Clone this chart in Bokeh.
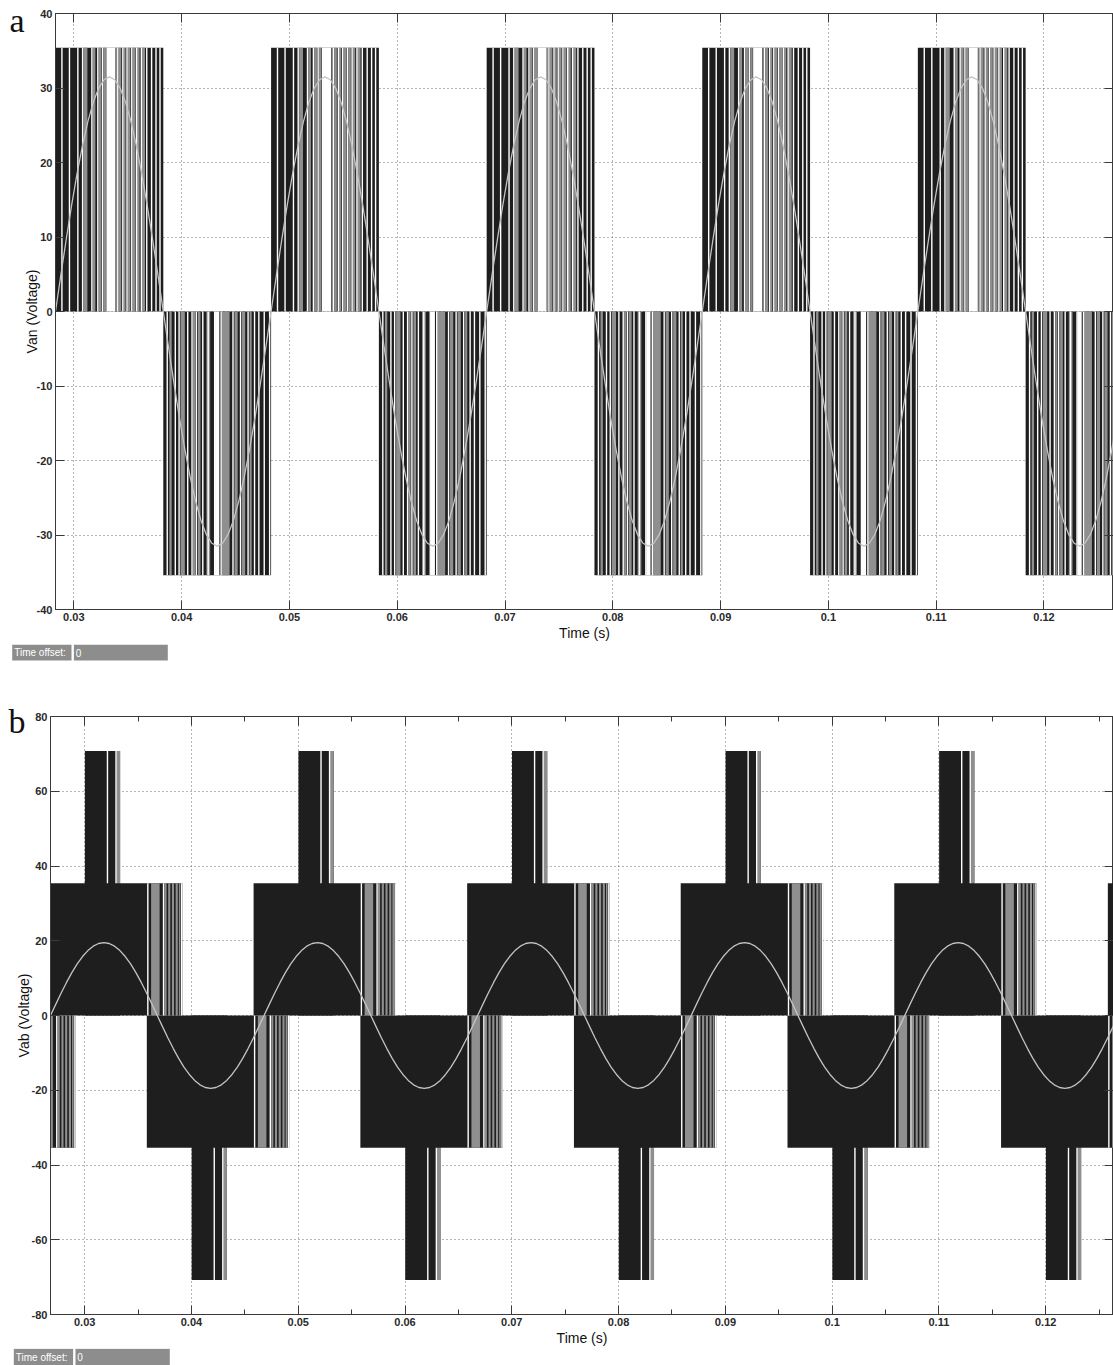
from bokeh.plotting import figure
from bokeh.models import (ColumnDataSource, LinearAxis, FixedTicker, Range1d,
                          CustomJSTickFormatter)
from bokeh.layouts import column
from bokeh.core.properties import value
from bokeh.embed import file_html
from bokeh.resources import INLINE

# ================= data: panel a (Van, phase voltage) =================
a_switch_times = [0.0283, 0.0383, 0.0483, 0.0583, 0.0683, 0.0783, 0.0883,
                  0.0983, 0.1083, 0.1183, 0.1283]          # half-cycle edges (s)
a_level = 35.4                                             # DC level (V)
# off-intervals inside a positive half cycle (ms from its start)
a_pos_white_ms = [0.53, 1.23, 2.01, 2.45, 3.31, 3.86, 4.3, 5.71, 6.18, 6.57,
                  7.01, 7.45, 7.9, 8.4, 8.85, 9.26, 9.63]
a_pos_gray_ms = [(2.6, 2.96), (3.45, 3.7), (4.0, 4.25), (4.45, 4.68),
                 (5.6, 5.7), (5.85, 6.1), (6.3, 6.5), (6.7, 6.95), (7.15, 7.4),
                 (7.55, 7.8), (8.0, 8.3)]
a_pos_gap_ms = [(4.72, 5.56)]
# off-intervals inside a negative half cycle (ms from its start)
a_neg_white_ms = [0.3, 1.05, 1.4, 2.2, 2.6, 3.0, 3.6, 4.1, 4.7, 5.3, 6.4, 7.1,
                  7.8, 8.4, 8.8, 9.3, 9.8]
a_neg_gray_ms = [(0.56, 0.78), (1.6, 2.0), (2.75, 2.95), (3.2, 3.45),
                 (4.0, 4.35), (5.4, 6.15), (6.6, 6.9), (7.3, 7.6), (8.0, 8.2)]
a_neg_gap_ms = [(4.8, 5.2)]
# fundamental (one cycle sampled every 0.5 ms) and cycle start times
a_sine_cycle_starts = [0.0283, 0.0483, 0.0683, 0.0883, 0.1083]
a_sine_cycle = [0, 4.93, 9.73, 14.30, 18.52, 22.27, 25.48, 28.07, 29.96, 31.11,
                31.5, 31.11, 29.96, 28.07, 25.48, 22.27, 18.52, 14.30, 9.73, 4.93,
                0, -4.93, -9.73, -14.30, -18.52, -22.27, -25.48, -28.07, -29.96,
                -31.11, -31.5, -31.11, -29.96, -28.07, -25.48, -22.27, -18.52,
                -14.30, -9.73, -4.93, 0]
a_xticks = [0.03, 0.04, 0.05, 0.06, 0.07, 0.08, 0.09, 0.10, 0.11, 0.12]
a_yticks = [-40, -30, -20, -10, 0, 10, 20, 30, 40]

# ================= data: panel b (Vab, line voltage) =================
b_level1 = 35.4
b_level2 = 70.8
b_pos_starts = [0.02582, 0.04582, 0.06582, 0.08582, 0.10582, 0.12582]
b_neg_starts = [0.01582, 0.03582, 0.05582, 0.07582, 0.09582, 0.11582]
b_block_ms = 13.33          # total on-duration of a +/- level-1 block
b_tail_white_ms = [10.03, 11.5, 13.2]
b_tail_gray_ms = [(10.4, 11.2), (11.65, 11.85), (12.0, 12.2), (12.35, 12.55),
                  (12.7, 12.9), (13.0, 13.15)]
b_peak_ms = (4.2, 7.5)      # level-2 pulse window
b_peak_white_ms = [6.25, 7.05]
b_peak_gray_ms = [(7.15, 7.5)]
b_sine_cycle_starts = [0.0268, 0.0468, 0.0668, 0.0868, 0.1068]
b_sine_cycle = [0, 3.05, 6.03, 8.85, 11.46, 13.79, 15.78, 17.37, 18.55, 19.26,
                19.5, 19.26, 18.55, 17.37, 15.78, 13.79, 11.46, 8.85, 6.03, 3.05,
                0, -3.05, -6.03, -8.85, -11.46, -13.79, -15.78, -17.37, -18.55,
                -19.26, -19.5, -19.26, -18.55, -17.37, -15.78, -13.79, -11.46,
                -8.85, -6.03, -3.05, 0]
b_xticks = [0.03, 0.04, 0.05, 0.06, 0.07, 0.08, 0.09, 0.10, 0.11, 0.12]
b_xminor = [0.025, 0.03, 0.035, 0.04, 0.045, 0.05, 0.055, 0.06, 0.065, 0.07,
            0.075, 0.08, 0.085, 0.09, 0.095, 0.10, 0.105, 0.11, 0.115, 0.12, 0.125]
b_yticks = [-80, -60, -40, -20, 0, 20, 40, 60, 80]

sine_step_ms = 0.5

DARK = "#1e1e1e"
GRAY = "#8f8f8f"
WHITE = "#ffffff"
STRIPE = 0.13  # ms
FONT = "Liberation Sans"
AX = "#3a3a3a"
W = 1113


def no_align(p):
    if "frame_align" in p.properties():
        p.frame_align = False


def empty():
    return dict(left=[], right=[], bottom=[], top=[])


def add(d, l, r, b, t):
    d["left"].append(l); d["right"].append(r)
    d["bottom"].append(b); d["top"].append(t)


def sine_xy(starts, cycle):
    xs, ys = [], []
    for s in starts:
        for k, v in enumerate(cycle):
            xs.append(s + k * sine_step_ms / 1000.0)
            ys.append(v)
        xs.append(float("nan")); ys.append(float("nan"))
    return xs, ys


def style(p, xticks, yticks, xminor=None):
    fmt = CustomJSTickFormatter(code="return String(Math.round(tick*1000)/1000)")
    yfmt = CustomJSTickFormatter(code="return String(Math.round(tick))")
    blank = CustomJSTickFormatter(code="return ''")
    xt = FixedTicker(ticks=xticks, minor_ticks=xminor or [])
    yt = FixedTicker(ticks=yticks)
    bx = p.below[0]
    ly = p.left[0]
    bx.ticker = xt
    bx.formatter = fmt
    ly.ticker = yt
    ly.formatter = yfmt
    p.xgrid.ticker = xt
    p.ygrid.ticker = yt
    for g in (p.xgrid, p.ygrid):
        g.grid_line_color = "#6a6a6a"
        g.grid_line_dash = "1 3"
        g.grid_line_width = 1
    tx = LinearAxis(ticker=xt, formatter=blank, major_label_standoff=0,
                    major_label_text_font_size="0px")
    ry = LinearAxis(ticker=yt, formatter=blank, major_label_standoff=0,
                    major_label_text_font_size="0px")
    p.add_layout(tx, "above")
    p.add_layout(ry, "right")
    for ax in (bx, ly, tx, ry):
        is_x = ax in (bx, tx)
        ax.major_tick_in = 9
        ax.major_tick_out = 0
        ax.minor_tick_out = 0
        if is_x and xminor:
            ax.minor_tick_in = 5
            ax.minor_tick_line_color = AX
        else:
            ax.minor_tick_in = 0
            ax.minor_tick_line_color = None
        ax.axis_line_color = AX
        ax.major_tick_line_color = AX
        ax.axis_label_text_font = FONT
        ax.axis_label_text_font_size = "14px"
        ax.axis_label_text_font_style = "normal"
        ax.axis_label_text_color = "#111111"
    for ax in (bx, ly):
        ax.major_label_text_font = FONT
        ax.major_label_text_font_size = "11px"
        ax.major_label_text_font_style = "bold"
        ax.major_label_text_color = "#2a2a2a"
    bx.major_label_standoff = 3
    ly.major_label_standoff = 3
    bx.axis_label = "Time (s)"
    bx.axis_label_standoff = 1
    p.outline_line_color = AX
    p.background_fill_color = "white"
    p.border_fill_color = "white"
    return bx, ly


def panel_letter(p, letter, ypos, standoff):
    ax = LinearAxis(ticker=FixedTicker(ticks=[ypos]),
                    formatter=CustomJSTickFormatter(code="return '%s'" % letter),
                    axis_line_color=None, major_tick_line_color=None,
                    minor_tick_line_color=None, major_tick_out=0,
                    major_tick_in=0, minor_tick_out=0, minor_tick_in=0,
                    major_label_standoff=standoff,
                    major_label_text_font="Liberation Serif",
                    major_label_text_font_size="34px",
                    major_label_text_color="#111111")
    p.add_layout(ax, "left")


def strip(height, box_top, box_bot, x0, xsep, x1):
    s = figure(width=W, height=height, x_range=Range1d(0, W),
               y_range=Range1d(height, 0), output_backend="svg",
               toolbar_location=None, x_axis_location=None, y_axis_location=None,
               min_border_left=0, min_border_right=0, min_border_top=0,
               min_border_bottom=0)
    no_align(s)
    s.grid.visible = False
    s.outline_line_color = None
    s.quad(left=[x0, xsep + 1.2], right=[xsep - 1.2, x1], top=[box_top, box_top],
           bottom=[box_bot, box_bot], fill_color="#8d8d8d", line_color=None)
    ym = (box_top + box_bot) / 2
    s.text(x=[x0 + 2, xsep + 3], y=[ym, ym], text=["Time offset:", "0"],
           text_font=value(FONT), text_font_size="10px", text_color="white",
           text_baseline="middle", text_align="left")
    return s


# ======================= panel a =======================
pa = figure(width=W, height=643, x_range=Range1d(0.0283, 0.12645),
            y_range=Range1d(-40, 40), output_backend="svg", toolbar_location=None,
            min_border_left=55, min_border_right=0, min_border_top=13,
            min_border_bottom=34)
no_align(pa)
bx, ly = style(pa, a_xticks, a_yticks)
ly.axis_label = "Van (Voltage)"
ly.axis_label_standoff = -6
panel_letter(pa, "a", 39.4, -4)

dk, gr, wh = empty(), empty(), empty()
for i in range(len(a_switch_times) - 1):
    t0, t1 = a_switch_times[i], a_switch_times[i + 1]
    top = a_level if i % 2 == 0 else 0
    bot = 0 if i % 2 == 0 else -a_level
    add(dk, t0, t1, bot, top)
    whites = a_pos_white_ms if i % 2 == 0 else a_neg_white_ms
    grays = a_pos_gray_ms if i % 2 == 0 else a_neg_gray_ms
    gaps = a_pos_gap_ms if i % 2 == 0 else a_neg_gap_ms
    for g0, g1 in grays:
        add(gr, t0 + g0 / 1000, t0 + g1 / 1000, bot, top)
    for g0, g1 in gaps:
        add(wh, t0 + g0 / 1000, t0 + g1 / 1000, bot, top)
    for w in whites:
        add(wh, t0 + w / 1000, t0 + (w + STRIPE) / 1000, bot, top)
for d, c in ((dk, DARK), (gr, GRAY), (wh, WHITE)):
    pa.quad(source=ColumnDataSource(d), left="left", right="right",
            bottom="bottom", top="top", fill_color=c, line_color=None)
sx, sy = sine_xy(a_sine_cycle_starts, a_sine_cycle)
pa.line(sx, sy, line_color="#c4c4c4", line_width=1.3)

sa = strip(39, 1.3, 17, 11.7, 72.2, 167.3)

# ======================= panel b =======================
pb = figure(width=W, height=666, x_range=Range1d(0.0268, 0.12635),
            y_range=Range1d(-80, 80), output_backend="svg", toolbar_location=None,
            min_border_left=50, min_border_right=0, min_border_top=34,
            min_border_bottom=34)
no_align(pb)
bx, ly = style(pb, b_xticks, b_yticks, b_xminor)
ly.axis_label = "Vab (Voltage)"
ly.axis_label_standoff = -3
panel_letter(pb, "b", 78.6, -13)

dk, gr, wh = empty(), empty(), empty()
for starts, sgn in ((b_pos_starts, 1), (b_neg_starts, -1)):
    for s in starts:
        lo1, hi1 = (0, b_level1) if sgn > 0 else (-b_level1, 0)
        lo2, hi2 = (0, b_level2) if sgn > 0 else (-b_level2, 0)
        p_lo, p_hi = (hi1, hi2) if sgn > 0 else (lo2, lo1)
        add(dk, s, s + b_block_ms / 1000, lo1, hi1)
        add(dk, s + b_peak_ms[0] / 1000, s + b_peak_ms[1] / 1000, lo2, hi2)
        for g0, g1 in b_tail_gray_ms:
            add(gr, s + g0 / 1000, s + g1 / 1000, lo1, hi1)
        for w in b_tail_white_ms:
            add(wh, s + w / 1000, s + (w + STRIPE) / 1000, lo1, hi1)
        for g0, g1 in b_peak_gray_ms:
            add(gr, s + g0 / 1000, s + g1 / 1000, p_lo, p_hi)
        for w in b_peak_white_ms:
            add(wh, s + w / 1000, s + (w + STRIPE) / 1000, p_lo, p_hi)
for d, c in ((dk, DARK), (gr, GRAY), (wh, WHITE)):
    pb.quad(source=ColumnDataSource(d), left="left", right="right",
            bottom="bottom", top="top", fill_color=c, line_color=None)
sx, sy = sine_xy(b_sine_cycle_starts, b_sine_cycle)
pb.line(sx, sy, line_color="#c4c4c4", line_width=1.3)

sb = strip(17, 0.3, 17, 13.3, 73.8, 169.3)

layout = column(pa, sa, pb, sb, spacing=0)
open("out.html", "w").write(file_html(layout, INLINE))
